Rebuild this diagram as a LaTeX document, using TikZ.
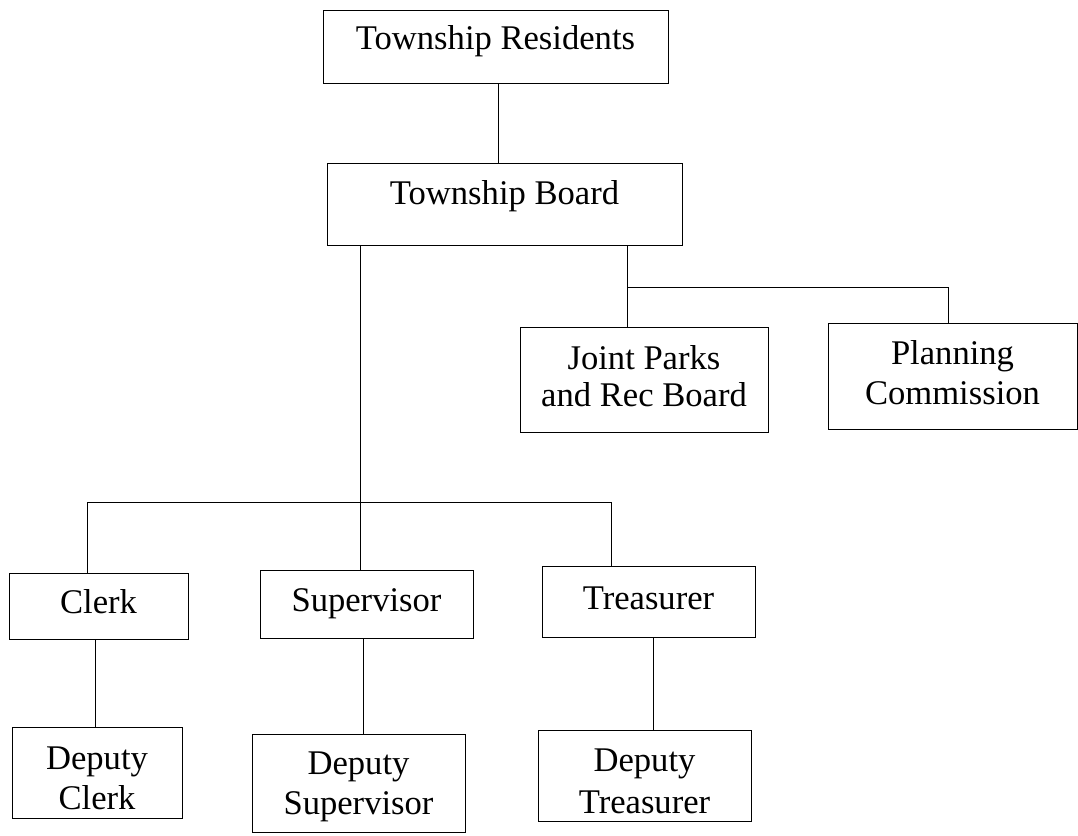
\documentclass[tikz,border=0pt]{standalone}
\usepackage{fontspec}
\setmainfont{Liberation Serif}
\usepackage{tikz}
\usetikzlibrary{positioning}
\newcommand{\toppad}[1]{\rule{0pt}{#1}}
\newcommand{\botpad}[1]{\rule[-#1]{0pt}{#1}}
\tikzstyle{office} = [rectangle, draw=black, line width=0.9pt, inner sep=4pt, align=center, font=\fontsize{34.6}{40}\selectfont]
\tikzstyle{oneline} = [office, text height=24pt, text depth=9pt]
\tikzstyle{orgline} = [line width=0.9pt]

\begin{document}
\begin{tikzpicture}[node distance=160pt]
                \useasboundingbox (0,0) rectangle (1078pt,-835pt);

% ---------------------------------------------
% Top (residents and board)
% ---------------------------------------------
                \node (tier1_1) [oneline, minimum width=345pt, minimum height=73.5pt, text depth=19pt] at (495.5pt,-46.75pt) {Township Residents};

                \node (tier2_1) [oneline, minimum width=355pt, minimum height=82pt, text depth=24pt, below of = tier1_1, xshift=9pt, yshift=2.75pt] {Township Board};

% ---------------------------------------------
% Right Division
% ---------------------------------------------
                \node (tier3_1) [office, minimum width=248pt, minimum height=105pt, below of = tier2_1, xshift=139.5pt, yshift=-15.5pt] {Joint Parks\\[-3pt]and Rec Board\botpad{8pt}};

                \node (tier3_2) [office, minimum width=249pt, minimum height=106pt, right of = tier3_1, xshift=148.5pt, yshift=3.5pt] {Planning\\Commission\botpad{7pt}};

% ---------------------------------------------
% Officers
% ---------------------------------------------
                \node (tier4_2) [oneline, minimum width=213pt, minimum height=68pt, below of = tier2_1, xshift=-138pt, yshift=-240pt] {Supervisor};

                \node (tier4_1) [oneline, minimum width=179pt, minimum height=66pt, left of = tier4_2, xshift=-108pt, yshift=-2pt] {Clerk};

                \node (tier4_3) [oneline, minimum width=213pt, minimum height=71pt, right of = tier4_2, xshift=122pt, yshift=2.5pt] {Treasurer};

% ---------------------------------------------
% Deputies
% ---------------------------------------------
                \node (tier5_1) [office, minimum width=170pt, minimum height=91pt, below of = tier4_1, xshift=-1.5pt, yshift=-6.5pt] {\toppad{35pt}Deputy\\Clerk};

                \node (tier5_2) [office, minimum width=213pt, minimum height=98pt, below of = tier4_2, xshift=-8pt, yshift=-19pt] {\toppad{30pt}Deputy\\Supervisor};

                \node (tier5_3) [office, minimum width=213pt, minimum height=91pt, below of = tier4_3, xshift=-4pt, yshift=-14pt] {\toppad{34pt}Deputy\\[2pt]Treasurer};

% ---------------------------------------------
% Junctions
% ---------------------------------------------
                \coordinate (highsplit) at (627pt,-287pt);
                \coordinate (highright) at (948pt,-287pt);
                \coordinate (lowsplit) at (360pt,-502pt);
                \coordinate (lowleft) at (87pt,-502pt);
                \coordinate (lowright) at (611pt,-502pt);

% ---------------------------------------------
% All lines
% ---------------------------------------------
                \draw [orgline] ([xshift=2.5pt]tier1_1.south) -- ([xshift=2.5pt]tier1_1.south |- tier2_1.north);

                % right column
                \draw [orgline] (tier2_1.south -| highsplit) -- (highsplit |- tier3_1.north);
                \draw [orgline] (highsplit) -- (highright) -- (highright |- tier3_2.north);

                % officers
                \draw [orgline] (tier2_1.south -| lowsplit) -- (lowsplit |- tier4_2.north);
                \draw [orgline] (lowleft |- tier4_1.north) -- (lowleft) -- (lowright) -- (lowright |- tier4_3.north);

                % deputies
                \draw [orgline] ([xshift=-3.5pt]tier4_1.south) -- ([xshift=-3.5pt]tier4_1.south |- tier5_1.north);
                \draw [orgline] ([xshift=-3.5pt]tier4_2.south) -- ([xshift=-3.5pt]tier4_2.south |- tier5_2.north);
                \draw [orgline] ([xshift=4.5pt]tier4_3.south) -- ([xshift=4.5pt]tier4_3.south |- tier5_3.north);

\end{tikzpicture}
\end{document}
